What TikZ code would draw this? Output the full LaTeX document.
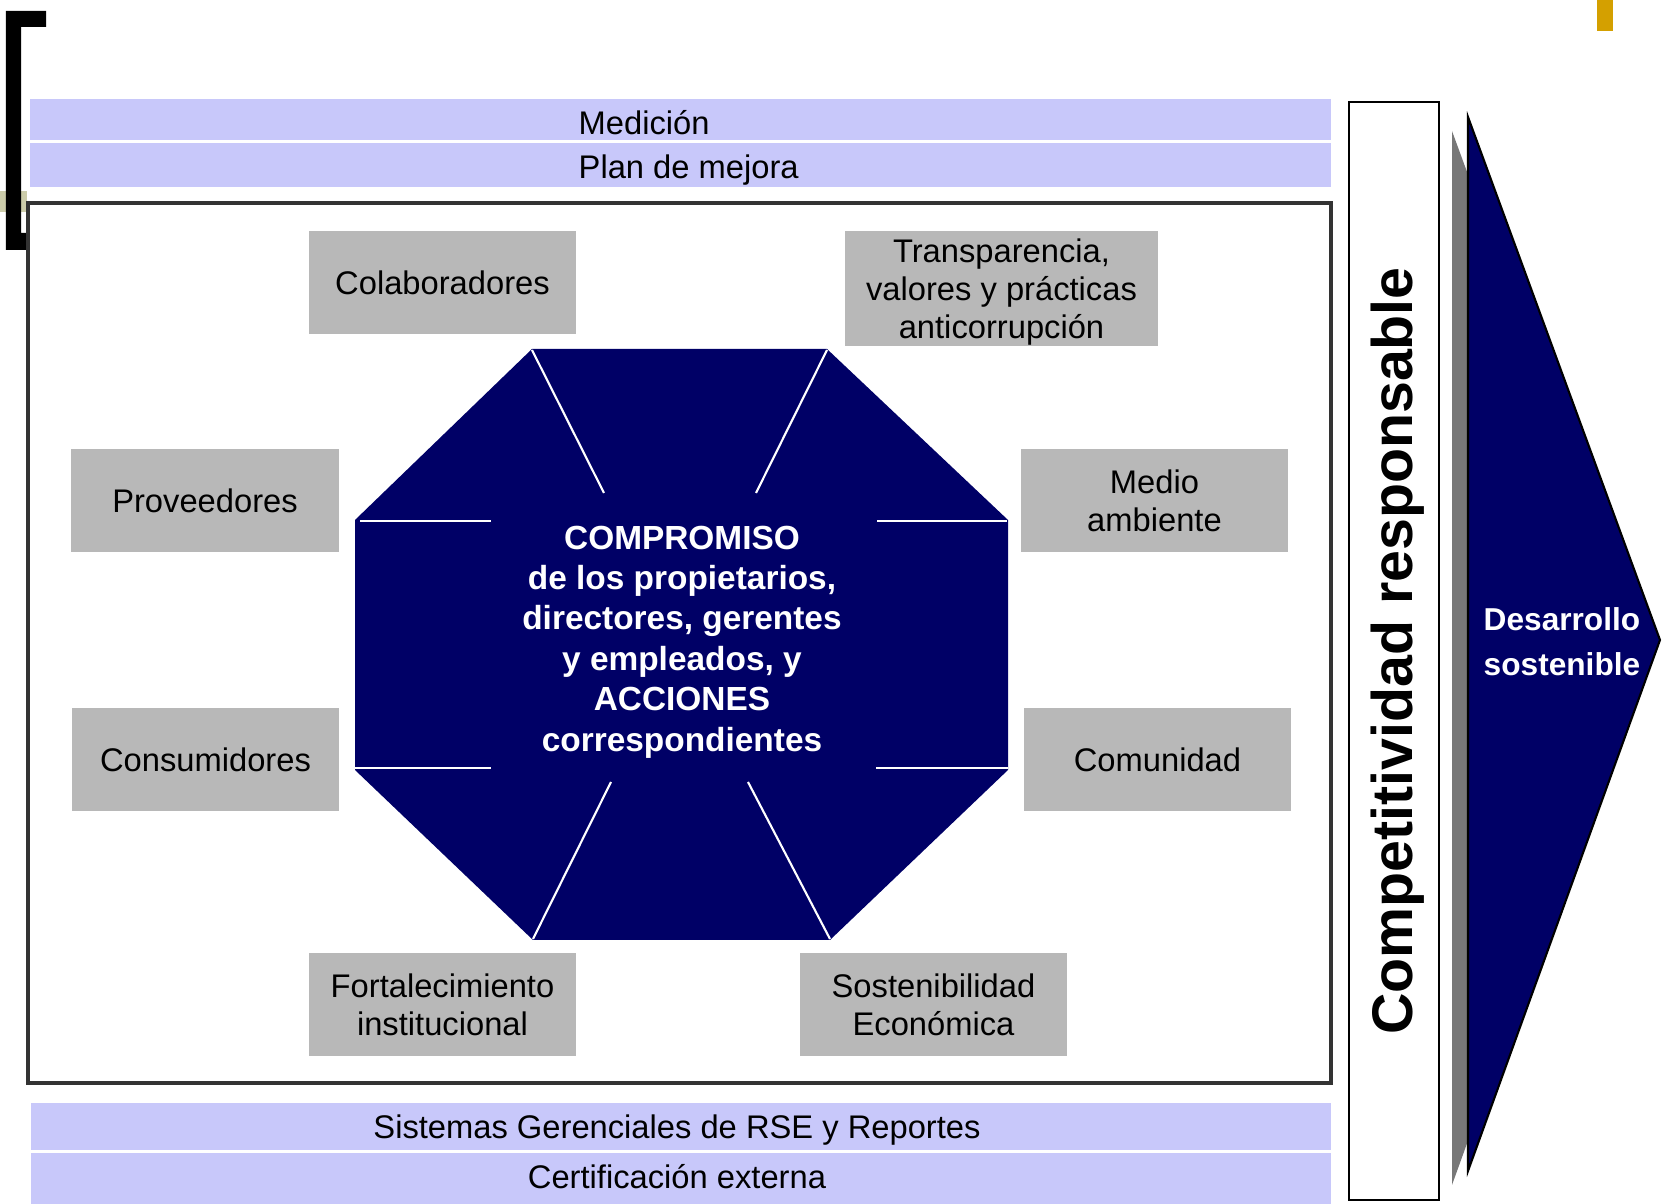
\documentclass[tikz,border=0pt]{standalone}
\usepackage{fontspec}
\setmainfont{Liberation Sans}
\definecolor{barra}{RGB}{200,200,250}
\definecolor{caja}{RGB}{184,184,184}
\definecolor{marino}{RGB}{0,0,102}
\definecolor{oliva}{RGB}{204,204,170}
\definecolor{oro}{RGB}{212,160,0}
\definecolor{sombra}{RGB}{120,120,120}
\tikzset{>=latex}
\tikzset{gbox/.style={fill=caja, inner sep=0pt, minimum width=2.67cm, minimum height=1.03cm, align=center, font=\fontsize{9.3}{10.8}\selectfont}}
\tikzset{btext/.style={inner sep=0pt, font=\fontsize{9.3}{10.8}\selectfont}}
\tikzset{wline/.style={white, line width=0.6pt}}

\begin{document}
\begin{tikzpicture}[x=0.01cm, y=-0.01cm]
    \useasboundingbox(0, 0) rectangle (1662, 1204);
    \fill[oliva](0, 191) rectangle (27, 212);
    \fill(6, 11) -- (46, 11) -- (46, 27) -- (21, 27) -- (21, 233) -- (28, 233) -- (28, 250) -- (6, 250) -- cycle;
    \fill[oro](1597, 0) rectangle (1613, 31);
    \fill[barra](30, 99) rectangle (1331, 140);
    \fill[barra](30, 143) rectangle (1331, 187);
    \fill[barra](31, 1103) rectangle (1331, 1150);
    \fill[barra](31, 1153) rectangle (1331, 1204);
    \node[btext, anchor=west](medicion) at (578, 123) {Medición};
    \node[btext, anchor=west](plan) at (578, 170) {Plan de mejora};
    \node[btext](sistemas) at (677, 1130) {Sistemas Gerenciales de RSE y Reportes};
    \node[btext](certif) at (677, 1177) {Certificación externa};
    \draw[line width=0.9pt, black!80](28, 203) rectangle (1331, 1083);
    \fill[marino](532, 349) -- (827, 349) -- (1008, 520) -- (1008, 770) -- (830, 940) -- (533, 940) -- (355, 770) -- (355, 520) -- cycle;
    \draw[wline](532, 350) -- (604, 493);
    \draw[wline](827, 350) -- (756, 493);
    \draw[wline](360, 521) -- (491, 521);
    \draw[wline](877, 521) -- (1007, 521);
    \draw[wline](355, 768) -- (491, 768);
    \draw[wline](876, 768) -- (1008, 768);
    \draw[wline](611, 782) -- (533, 939);
    \draw[wline](748, 782) -- (830, 939);
    \node[white, align=center, font=\fontsize{9.5}{11.5}\selectfont\bfseries](compromiso) at (682, 642)
        {COMPROMISO\\de los propietarios,\\directores, gerentes\\y empleados, y\\ACCIONES\\correspondientes};
    \node[gbox](colab) at (442.5, 282.5) {Colaboradores};
    \node[gbox, minimum width=3.13cm, minimum height=1.15cm, text depth=0pt](transp) at (1001.5, 288.5) {\rule{0pt}{0pt}Transparencia,\\valores y prácticas\\anticorrupción};
    \node[gbox](prov) at (205, 500.5) {Proveedores};
    \node[gbox](medio) at (1154.5, 500.5) {Medio\\ambiente};
    \node[gbox](consum) at (205.5, 759.5) {Consumidores};
    \node[gbox](comun) at (1157.5, 759.5) {Comunidad};
    \node[gbox](fortal) at (442.5, 1004.5) {Fortalecimiento\\institucional};
    \node[gbox](sosten) at (933.5, 1004.5) {Sostenibilidad\\Económica};
    \draw[line width=0.8pt](1349, 102) rectangle (1439, 1200);
    \node[rotate=90, inner sep=0pt, font=\fontsize{16.3}{18}\selectfont\bfseries](compet) at (1398, 651) {Competitividad responsable};
    \fill[sombra, shift={(-16, 14)}](1468, 117) -- (1660, 640) -- (1468, 1171) -- cycle;
    \draw[fill=marino, line width=0.6pt](1468, 117) -- (1660, 640) -- (1468, 1171) -- cycle;
    \node[white, align=center, font=\fontsize{9}{12.8}\selectfont\bfseries](desarrollo) at (1562, 642) {Desarrollo\\sostenible};
\end{tikzpicture}
\end{document}
